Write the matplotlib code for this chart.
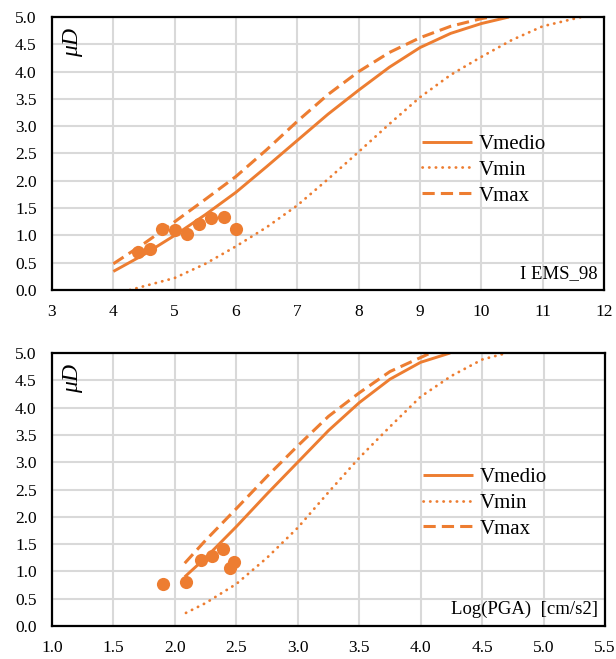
import matplotlib
matplotlib.use("Agg")
import matplotlib.pyplot as plt

# ---------------- data: top panel (I EMS_98) ----------------
top_pts_x = [4.4, 4.6, 4.8, 5.0, 5.2, 5.4, 5.6, 5.8, 6.0]
top_pts_y = [0.70, 0.75, 1.12, 1.09, 1.02, 1.21, 1.32, 1.33, 1.12]

top_med_x = [4.0, 4.5, 5.0, 5.5, 6.0, 6.5, 7.0, 7.5, 8.0, 8.5, 9.0, 9.5, 10.0, 10.45]
top_med_y = [0.34, 0.65, 1.0, 1.38, 1.79, 2.26, 2.74, 3.22, 3.66, 4.08, 4.44, 4.70, 4.88, 5.0]

top_max_x = [4.0, 4.5, 5.0, 5.5, 6.0, 6.5, 7.0, 7.5, 8.0, 8.5, 9.0, 9.5, 10.0, 10.15]
top_max_y = [0.48, 0.85, 1.25, 1.66, 2.08, 2.57, 3.09, 3.58, 4.0, 4.35, 4.62, 4.83, 4.97, 5.0]

top_min_x = [4.27, 4.5, 5.0, 5.5, 6.0, 6.5, 7.0, 7.5, 8.0, 8.5, 9.0, 9.5, 10.0, 10.5, 11.0, 11.63]
top_min_y = [0.0, 0.07, 0.22, 0.48, 0.80, 1.15, 1.55, 2.03, 2.53, 3.04, 3.53, 3.94, 4.27, 4.58, 4.83, 5.0]

top_xticks = [3, 4, 5, 6, 7, 8, 9, 10, 11, 12]

# ---------------- data: bottom panel (Log(PGA)) ----------------
bot_pts_x = [1.90, 2.09, 2.21, 2.30, 2.39, 2.45, 2.48]
bot_pts_y = [0.77, 0.80, 1.20, 1.28, 1.41, 1.06, 1.17]

bot_med_x = [2.08, 2.25, 2.5, 2.75, 3.0, 3.25, 3.5, 3.75, 4.0, 4.24]
bot_med_y = [0.90, 1.25, 1.82, 2.42, 3.0, 3.58, 4.09, 4.52, 4.83, 5.0]

bot_max_x = [2.08, 2.25, 2.5, 2.75, 3.0, 3.25, 3.5, 3.75, 4.08]
bot_max_y = [1.15, 1.57, 2.15, 2.74, 3.30, 3.84, 4.27, 4.66, 5.0]

bot_min_x = [2.09, 2.25, 2.5, 2.75, 3.0, 3.25, 3.5, 3.75, 4.0, 4.25, 4.5, 4.7]
bot_min_y = [0.24, 0.42, 0.77, 1.25, 1.80, 2.45, 3.08, 3.65, 4.20, 4.58, 4.88, 5.0]

bot_xticks = [1.0, 1.5, 2.0, 2.5, 3.0, 3.5, 4.0, 4.5, 5.0, 5.5]

yticks = [0.0, 0.5, 1.0, 1.5, 2.0, 2.5, 3.0, 3.5, 4.0, 4.5, 5.0]

series_labels = ["Vmedio", "Vmin", "Vmax"]
top_caption = "I EMS_98"
bot_caption = "Log(PGA)  [cm/s2]"
ylabel_txt = r"$\mu D$"

# ---------------- style ----------------
ORANGE = "#ED7D31"
GRID = "#D9D9D9"
plt.rcParams["font.family"] = ["Liberation Serif", "DejaVu Serif"]
plt.rcParams["mathtext.fontset"] = "custom"
plt.rcParams["mathtext.it"] = "Liberation Serif:italic"
plt.rcParams["mathtext.rm"] = "Liberation Serif"

fig = plt.figure(figsize=(6.16, 6.59), dpi=100)
W, H = 616, 659


def add_ax(l, r, t, b):
    return fig.add_axes([l / W, 1 - b / H, (r - l) / W, (b - t) / H])


ax1 = add_ax(52, 604, 17, 290)
ax2 = add_ax(52, 605, 353, 626)


def style(ax, xticks, xlim, fmt, caption, leg_y):
    ax.set_xlim(*xlim)
    ax.set_ylim(0, 5)
    ax.set_xticks(xticks)
    ax.set_xticklabels([fmt.format(v) for v in xticks])
    ax.set_yticks(yticks)
    ax.set_yticklabels(["{:.1f}".format(v) for v in yticks])
    ax.tick_params(axis="y", length=0, labelsize=12.5, pad=11)
    ax.tick_params(axis="x", length=0, labelsize=12.5, pad=10)
    ax.grid(True, color=GRID, lw=1.5)
    ax.set_axisbelow(True)
    for s in ax.spines.values():
        s.set_color("black")
        s.set_linewidth(1.6)
        s.set_zorder(5)
    ax.text(0.988, 0.03, caption, transform=ax.transAxes, ha="right", va="bottom",
            fontsize=13.5)
    ax.text(0.038, 0.965, ylabel_txt, transform=ax.transAxes, ha="center", va="top",
            rotation=90, fontsize=17)
    leg = ax.legend(loc="center left", bbox_to_anchor=(0.67, leg_y), frameon=False,
                    fontsize=15, handlelength=2.4, handletextpad=0.35,
                    labelspacing=0.3, borderpad=0, borderaxespad=0)
    return leg


def draw(ax, px, py, mx, my, nx, ny, xx, xy):
    ax.plot(mx, my, color=ORANGE, lw=2.1, solid_capstyle="butt", label=series_labels[0], zorder=3)
    ax.plot(nx, ny, color=ORANGE, lw=2.0, linestyle=(0, (0.1, 2.3)), dash_capstyle="round",
            label=series_labels[1], zorder=3)
    ax.plot(xx, xy, color=ORANGE, lw=2.2, linestyle=(0, (4, 2)), label=series_labels[2], zorder=3)
    ax.scatter(px, py, s=90, color=ORANGE, zorder=4, linewidths=0)


draw(ax1, top_pts_x, top_pts_y, top_med_x, top_med_y, top_min_x, top_min_y, top_max_x, top_max_y)
draw(ax2, bot_pts_x, bot_pts_y, bot_med_x, bot_med_y, bot_min_x, bot_min_y, bot_max_x, bot_max_y)

style(ax1, top_xticks, (3, 12), "{:d}", top_caption, 0.44)
style(ax2, bot_xticks, (1.0, 5.5), "{:.1f}", bot_caption, 0.45)

fig.savefig("out.png", dpi=100)
